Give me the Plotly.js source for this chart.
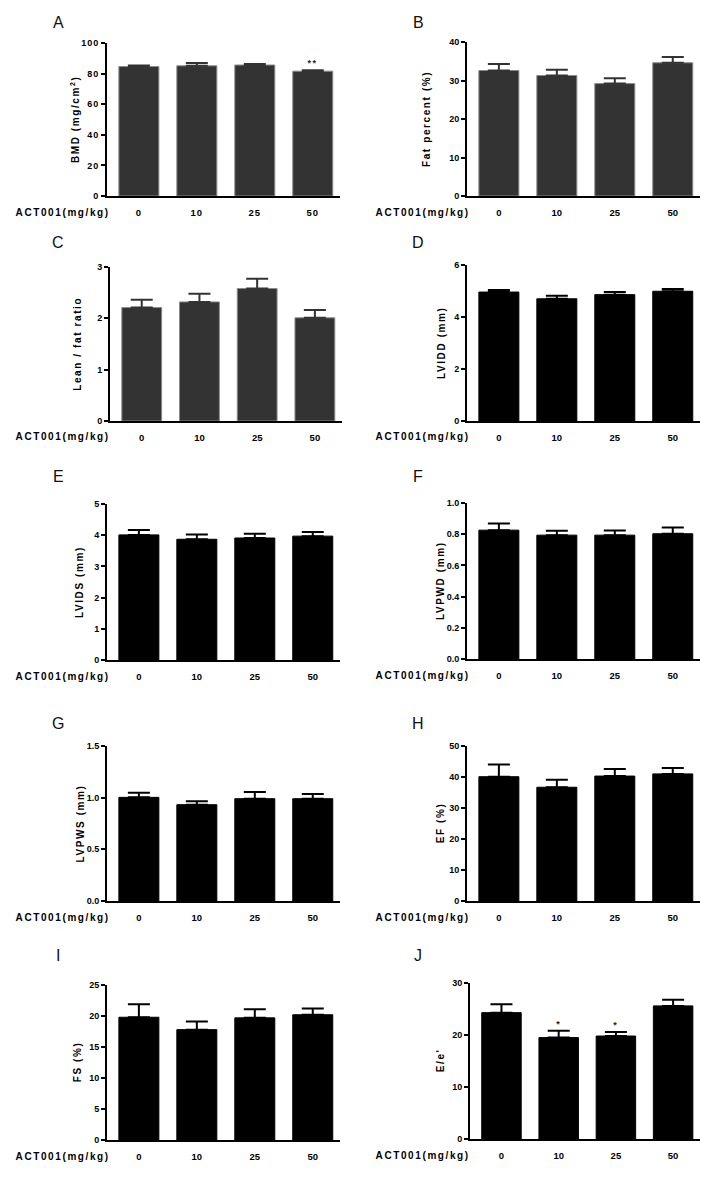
<!DOCTYPE html>
<html>
<head>
<meta charset="utf-8">
<script src="https://cdn.plot.ly/plotly-3.0.1.min.js"></script>
<style>
html,body{margin:0;padding:0;background:#fff;}
#chart{width:720px;height:1183px;}
#chart .xtick text, #chart .ytick text{letter-spacing:1px;}
#chart .annotation-text{letter-spacing:1.6px;}
</style>
</head>
<body>
<div id="chart"></div>
<script>
// ---- data ----
const categories = ['0', '10', '25', '50'];
const xLabel = 'ACT001(mg/kg)';

const bmd = [84.6, 85.1, 85.6, 81.6];
const bmdErr = [0.7, 1.9, 0.7, 0.6];
const fatPercent = [32.6, 31.3, 29.2, 34.6];
const fatPercentErr = [1.7, 1.5, 1.4, 1.5];
const leanFat = [2.21, 2.32, 2.58, 2.01];
const leanFatErr = [0.15, 0.16, 0.19, 0.15];
const lvidd = [4.96, 4.70, 4.86, 4.99];
const lviddErr = [0.08, 0.12, 0.10, 0.09];
const lvids = [4.01, 3.87, 3.91, 3.97];
const lvidsErr = [0.16, 0.15, 0.14, 0.13];
const lvpwd = [0.826, 0.794, 0.794, 0.803];
const lvpwdErr = [0.043, 0.028, 0.030, 0.040];
const lvpws = [1.003, 0.932, 0.990, 0.990];
const lvpwsErr = [0.045, 0.033, 0.065, 0.045];
const ef = [40.1, 36.7, 40.3, 41.0];
const efErr = [3.9, 2.4, 2.3, 1.9];
const fs = [19.8, 17.8, 19.7, 20.2];
const fsErr = [2.1, 1.3, 1.4, 1.0];
const eRatio = [24.3, 19.5, 19.8, 25.6];
const eRatioErr = [1.6, 1.3, 0.8, 1.2];

const panelLetters = ['A','B','C','D','E','F','G','H','I','J'];
const yTitles = ['BMD (mg/cm<sup>2</sup>)', 'Fat percent (%)', 'Lean / fat ratio', 'LVIDD (mm)',
  'LVIDS (mm)', 'LVPWD (mm)', 'LVPWS (mm)', 'EF (%)', 'FS (%)', "E/e'"];
const significance = [['', '', '', '**'], ['', '', '', ''], ['', '', '', ''], ['', '', '', ''], ['', '', '', ''],
  ['', '', '', ''], ['', '', '', ''], ['', '', '', ''], ['', '', '', ''], ['', '*', '*', '']];

// ---- layout of panels (pixels) ----
const W = 720, H = 1183;
const panels = [
  {vals: bmd, err: bmdErr, range: [0, 100], dtick: 20, fmt: '', color: '#333333', line: '#8a8a8a', x0: 107, x1: 340, top: 43, bot: 196, tx: 74},
  {vals: fatPercent, err: fatPercentErr, range: [0, 40], dtick: 10, fmt: '', color: '#333333', line: '#8a8a8a', x0: 467, x1: 700, top: 42, bot: 196, tx: 427},
  {vals: leanFat, err: leanFatErr, range: [0, 3], dtick: 1, fmt: '', color: '#333333', line: '#8a8a8a', x0: 110, x1: 342, top: 267, bot: 421, tx: 77},
  {vals: lvidd, err: lviddErr, range: [0, 6], dtick: 2, fmt: '', color: '#000000', line: '#000000', x0: 467, x1: 700, top: 265, bot: 421, tx: 442},
  {vals: lvids, err: lvidsErr, range: [0, 5], dtick: 1, fmt: '', color: '#000000', line: '#000000', x0: 107, x1: 340, top: 504, bot: 660, tx: 80},
  {vals: lvpwd, err: lvpwdErr, range: [0, 1], dtick: 0.2, fmt: '.1f', color: '#000000', line: '#000000', x0: 467, x1: 700, top: 503, bot: 659, tx: 440},
  {vals: lvpws, err: lvpwsErr, range: [0, 1.5], dtick: 0.5, fmt: '.1f', color: '#000000', line: '#000000', x0: 107, x1: 340, top: 746, bot: 901, tx: 80},
  {vals: ef, err: efErr, range: [0, 50], dtick: 10, fmt: '', color: '#000000', line: '#000000', x0: 467, x1: 700, top: 746, bot: 901, tx: 440},
  {vals: fs, err: fsErr, range: [0, 25], dtick: 5, fmt: '', color: '#000000', line: '#000000', x0: 107, x1: 340, top: 985, bot: 1140, tx: 77},
  {vals: eRatio, err: eRatioErr, range: [0, 30], dtick: 10, fmt: '', color: '#000000', line: '#000000', x0: 470, x1: 700, top: 983, bot: 1139, tx: 440}
];
const letterPos = [[58,23],[418,23],[58,243],[418,243],[58,476],[418,476],[58,723],[418,723],[58,955],[418,955]];

const font = 'Arial, "Liberation Sans", sans-serif';
const traces = [];
const layout = {
  width: W, height: H, margin: {l: 0, r: 0, t: 0, b: 0},
  paper_bgcolor: '#fff', plot_bgcolor: '#fff', showlegend: false,
  font: {family: font, color: '#000'},
  annotations: []
};

panels.forEach((p, i) => {
  const n = i + 1;
  const xa = n === 1 ? 'x' : 'x' + n;
  const ya = n === 1 ? 'y' : 'y' + n;
  traces.push({
    type: 'bar', x: categories, y: p.vals, xaxis: xa, yaxis: ya, width: 0.69,
    marker: {color: p.color, line: {color: p.line, width: 1}},
    error_y: {type: 'data', symmetric: false, array: p.err, arrayminus: p.err.map(() => 0),
      color: p.color, thickness: 2, width: 11},
    hoverinfo: 'none'
  });
  layout['xaxis' + (n === 1 ? '' : n)] = {
    domain: [p.x0 / W, p.x1 / W], anchor: ya, type: 'category', range: [-0.55, 3.47],
    showline: true, linecolor: '#000', linewidth: 2, showgrid: false, zeroline: false,
    ticks: 'outside', ticklen: 7, tickcolor: 'rgba(0,0,0,0)',
    tickfont: {family: font, size: 9.5, color: '#000', weight: 'bold'}, fixedrange: true
  };
  layout['yaxis' + (n === 1 ? '' : n)] = {
    domain: [1 - p.bot / H, 1 - p.top / H], anchor: xa, range: p.range, dtick: p.dtick, tick0: 0,
    tickformat: p.fmt, showline: true, linecolor: '#000', linewidth: 2, showgrid: false, zeroline: false,
    ticks: 'outside', ticklen: 4, tickwidth: 2, tickcolor: '#000',
    tickfont: {family: font, size: 9, color: '#000', weight: 'bold'}, fixedrange: true
  };
  // y title
  layout.annotations.push({
    text: yTitles[i], textangle: -90, xref: 'paper', yref: 'paper',
    x: p.tx / W, y: 1 - ((p.top + p.bot) / 2) / H, xanchor: 'center', yanchor: 'middle',
    showarrow: false, font: {family: font, size: 10, color: '#000', weight: 'bold'}
  });
  // x label
  layout.annotations.push({
    text: xLabel, xref: 'paper', yref: 'paper',
    x: (p.x0 < 360 ? 62 : 422) / W, y: 1 - (p.bot + 16) / H, xanchor: 'center', yanchor: 'middle',
    showarrow: false, font: {family: font, size: 10, color: '#000', weight: 'bold'}
  });
  // panel letter
  layout.annotations.push({
    text: panelLetters[i], xref: 'paper', yref: 'paper',
    x: letterPos[i][0] / W, y: 1 - letterPos[i][1] / H, xanchor: 'center', yanchor: 'middle',
    showarrow: false, font: {family: font, size: 16, color: '#111'}
  });
  // significance
  significance[i].forEach((s, k) => {
    if (!s) return;
    layout.annotations.push({
      text: s, xref: xa, yref: ya, x: k, y: p.vals[k] + p.err[k],
      xanchor: 'center', yanchor: 'bottom', yshift: 0, showarrow: false,
      font: {family: font, size: 9, color: '#222', weight: 'bold'}
    });
  });
});

Plotly.newPlot('chart', traces, layout, {displayModeBar: false, staticPlot: true}).then(() => {
  document.querySelectorAll('#chart .annotation-text').forEach(t => {
    if (t.textContent.length === 1 && /[A-J]/.test(t.textContent)) t.style.letterSpacing = '0px';
  });
});
</script>
</body>
</html>
